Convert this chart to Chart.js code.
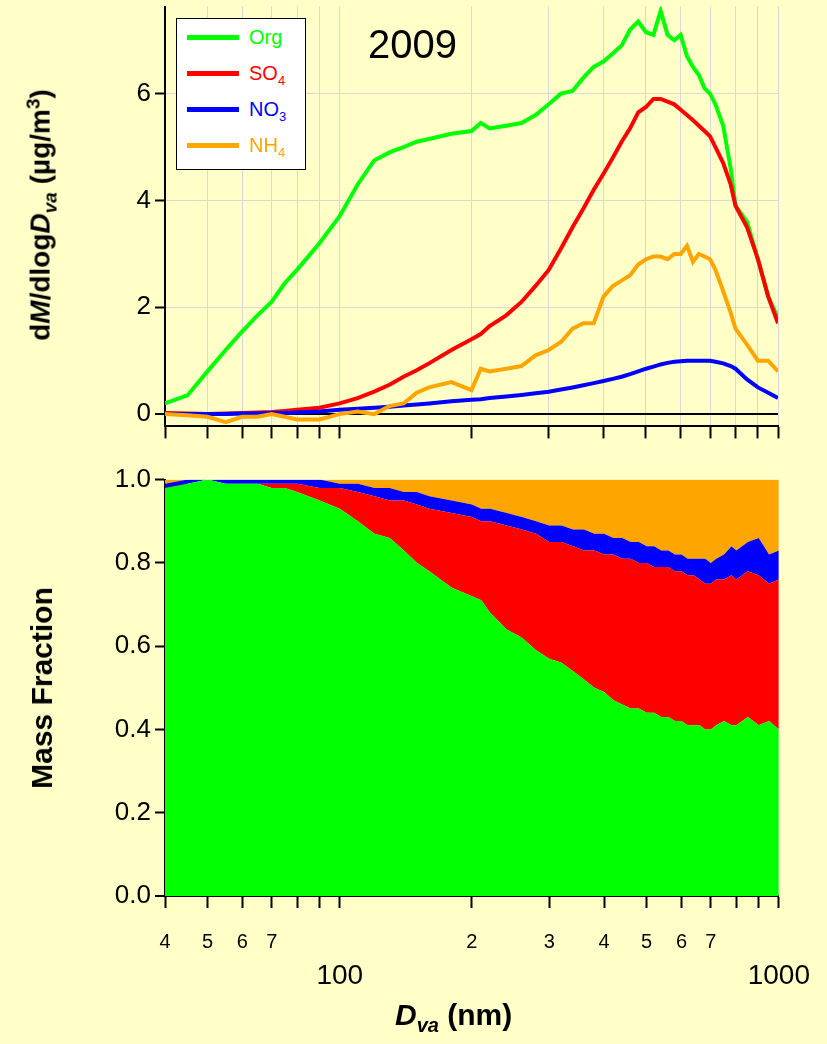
<!DOCTYPE html>
<html>
<head>
<meta charset="utf-8">
<script src="https://cdn.jsdelivr.net/npm/chart.js@4"></script>
<style>
  body { margin: 0; background: #FFFFC8; font-family: "Liberation Sans", Arial, sans-serif; }
  #wrap { position: relative; width: 827px; height: 1044px; overflow: hidden; }
  canvas { position: absolute; left: 0; }
  .lbl { position: absolute; white-space: nowrap; }
  #legend { position: absolute; left: 176px; top: 18px; width: 128px; height: 150px; border: 1.5px solid #000; background: #fff; font-size: 20px; }
  #legend div { position: relative; height: 36px; line-height: 36px; }
  #legend span.sw { position: absolute; left: 10px; top: 16px; width: 52px; height: 5px; }
  #legend span.tx { position: absolute; left: 72px; }
</style>
</head>
<body>
<div id="wrap">
  <canvas id="top" width="827" height="459" style="top:-13px"></canvas>
  <canvas id="bot" width="832" height="584" style="top:460px"></canvas>
  <div id="legend">
    <div><span class="sw" style="background:#00FF00"></span><span class="tx" style="color:#00FF00">Org</span></div>
    <div><span class="sw" style="background:#FF0000"></span><span class="tx" style="color:#FF0000">SO<sub style="font-size:13px">4</sub></span></div>
    <div><span class="sw" style="background:#0000FF"></span><span class="tx" style="color:#0000FF">NO<sub style="font-size:13px">3</sub></span></div>
    <div><span class="sw" style="background:#FFA500"></span><span class="tx" style="color:#FFA500">NH<sub style="font-size:13px">4</sub></span></div>
  </div>
  <div class="lbl" style="left:368px;top:22px;font-size:40px">2009</div>
  <div class="lbl" style="left:42px;top:215px;font-size:28px;font-weight:bold;transform:translate(-50%,-50%) rotate(-90deg)">d<i>M</i>/dlog<i>D<sub style="font-size:19px">va</sub></i> (µg/m<sup style="font-size:19px">3</sup>)</div>
  <div class="lbl" style="left:42px;top:688px;font-size:30px;font-weight:bold;transform:translate(-50%,-50%) rotate(-90deg)">Mass Fraction</div>
  <div class="lbl" style="left:395px;top:998px;font-size:30px;font-weight:bold"><i>D<sub style="font-size:20px">va</sub></i> (nm)</div>
</div>
<script>
// Particle size (nm)
const sizes = [40,45,50,55,60,65,70,75,80,90, 100,110,120,130,140,150,160,180,200,210, 220,240,260,280,300,320,340,360,380,400,
  420,440,460,480,500,520,540,560,580,600, 620,640,660,680,700,720,750,780,800,850, 900,950,1000];

// dM/dlogDva
const org = [0.2,0.35,0.8,1.2,1.55,1.85,2.1,2.45,2.7,3.2, 3.7,4.3,4.75,4.9,5.0,5.1,5.15,5.25,5.3,5.45, 5.35,5.4,5.45,5.6,5.8,6.0,6.05,6.3,6.5,6.6,
  6.75,6.9,7.2,7.35,7.15,7.1,7.55,7.1,7.0,7.1, 6.7,6.5,6.35,6.1,6.0,5.8,5.4,4.6,3.9,3.6, 2.9,2.2,1.8];
const so4 = [0.02,0.01,0.0,0.01,0.02,0.03,0.04,0.06,0.08,0.12, 0.2,0.3,0.42,0.55,0.7,0.82,0.95,1.2,1.4,1.5, 1.65,1.85,2.1,2.4,2.7,3.1,3.5,3.85,4.2,4.5,
  4.8,5.1,5.35,5.65,5.75,5.9,5.9,5.85,5.8,5.7, 5.6,5.5,5.4,5.3,5.2,5.0,4.7,4.3,3.9,3.5, 2.9,2.2,1.7];
const no3 = [0,0,0,0,0.01,0.01,0.02,0.02,0.03,0.05, 0.08,0.1,0.12,0.14,0.16,0.18,0.2,0.24,0.27,0.28, 0.3,0.33,0.36,0.39,0.42,0.46,0.5,0.54,0.58,0.62,
  0.66,0.7,0.75,0.8,0.85,0.89,0.93,0.96,0.98,0.99, 1.0,1.0,1.0,1.0,1.0,0.98,0.95,0.9,0.85,0.65, 0.5,0.4,0.3];
const nh4 = [0,-0.02,-0.05,-0.15,-0.05,-0.05,0,-0.05,-0.1,-0.1, 0,0.05,0,0.15,0.2,0.4,0.5,0.6,0.45,0.85, 0.8,0.85,0.9,1.1,1.2,1.35,1.6,1.7,1.7,2.2,
  2.4,2.5,2.6,2.8,2.9,2.95,2.95,2.9,3.0,3.0, 3.15,2.85,3.0,2.95,2.9,2.7,2.3,1.9,1.6,1.3, 1.0,1.0,0.8];

// Mass fraction, cumulative upper bounds of each stacked band
const orgTop = [0.98,0.99,1.0,0.99,0.99,0.99,0.98,0.98,0.97,0.95, 0.93,0.9,0.87,0.86,0.83,0.8,0.78,0.74,0.72,0.71, 0.68,0.64,0.62,0.59,0.57,0.56,0.54,0.52,0.5,0.49,
  0.47,0.46,0.45,0.45,0.44,0.44,0.43,0.43,0.42,0.42, 0.41,0.41,0.41,0.4,0.4,0.41,0.42,0.41,0.41,0.43, 0.41,0.42,0.4];
const so4Top = [0.97,0.99,1.0,0.99,0.99,0.99,0.99,0.99,0.99,0.98, 0.98,0.97,0.96,0.95,0.95,0.94,0.93,0.92,0.91,0.9, 0.9,0.89,0.88,0.87,0.85,0.85,0.84,0.83,0.83,0.82,
  0.82,0.81,0.81,0.8,0.8,0.79,0.79,0.79,0.78,0.78, 0.77,0.77,0.76,0.75,0.75,0.76,0.76,0.77,0.76,0.78, 0.77,0.75,0.76];
const no3Top = [0.99,1.0,1.0,1.0,1.0,1.0,1.0,1.0,1.0,1.0, 0.99,0.99,0.98,0.98,0.97,0.97,0.96,0.95,0.94,0.93, 0.93,0.92,0.91,0.9,0.89,0.89,0.88,0.88,0.87,0.87,
  0.86,0.86,0.85,0.85,0.84,0.84,0.83,0.83,0.82,0.82, 0.81,0.81,0.81,0.81,0.8,0.81,0.82,0.84,0.83,0.85, 0.86,0.82,0.83];
const nh4Top = sizes.map(() => 1);

// Axis ticks
const xTicks = [40,50,60,70,80,90,100,200,300,400,500,600,700,800,900,1000];
const xLabels = {40:'4',50:'5',60:'6',70:'7',100:'100',200:'2',300:'3',400:'4',500:'5',600:'6',700:'7',1000:'1000'};
const topYTicks = [0,2,4,6];
const botYTicks = [0,0.2,0.4,0.6,0.8,1.0];

const COLORS = { org: '#00FF00', so4: '#FF0000', no3: '#0000FF', nh4: '#FFA500' };
const FONT = '"Liberation Sans", Arial, sans-serif';
const PLOT_LEFT = 165, PLOT_RIGHT = 827 - 778;

function pts(ys) {
    return sizes.map((x, i) => ({ x: x, y: ys[i] }));
}

function isMajor(ctx) {
    return ctx.tick && (ctx.tick.value === 100 || ctx.tick.value === 1000);
}

function xScale(showLabels) {
    return {
        type: 'logarithmic', min: 40, max: 1000,
        afterBuildTicks: s => { s.ticks = xTicks.map(v => ({ value: v })); },
        afterFit: s => { s.height = showLabels ? 90 : 15; },
        border: { color: '#000', width: 2 },
        grid: {
            display: true,
            drawOnChartArea: !showLabels,
            color: showLabels ? '#000' : '#d8d8d8',
            tickColor: '#000',
            tickLength: 12,
            tickWidth: 2
        },
        ticks: {
            display: showLabels, autoSkip: false, maxRotation: 0, padding: 22, color: '#000',
            callback: v => {
                const l = xLabels[v] || '';
                return (v === 100 || v === 1000) ? ['', l] : l;
            },
            font: ctx => isMajor(ctx) ? { family: FONT, size: 28, lineHeight: 1.1 } : { family: FONT, size: 20 }
        }
    };
}

function yScale(min, max, ticks, grid, fmt) {
    return {
        min: min, max: max,
        afterBuildTicks: s => { s.ticks = ticks.map(v => ({ value: v })); },
        afterFit: s => { s.width = PLOT_LEFT; },
        border: { color: '#000', width: 2 },
        grid: {
            drawOnChartArea: grid,
            color: c => c.tick && c.tick.value === 0 ? '#000' : '#d8d8d8',
            lineWidth: c => c.tick && c.tick.value === 0 ? 2 : 1,
            tickColor: '#000', tickLength: 10, tickWidth: 2
        },
        ticks: { color: '#000', font: { family: FONT, size: 26 }, padding: 4, callback: fmt }
    };
}

function initializeTop() {
    const mk = (d, c) => ({ data: pts(d), borderColor: c, borderWidth: 4, pointRadius: 0, fill: false, tension: 0 });
    new Chart(document.getElementById('top'), {
        type: 'line',
        data: { datasets: [mk(nh4, COLORS.nh4), mk(no3, COLORS.no3), mk(so4, COLORS.so4), mk(org, COLORS.org)] },
        options: {
            responsive: false, animation: false,
            layout: { padding: { top: 5, right: PLOT_RIGHT, bottom: 0, left: 0 } },
            plugins: { legend: { display: false }, tooltip: { enabled: false } },
            scales: { x: xScale(false), y: yScale(-0.23, 7.63, topYTicks, true, v => String(v)) }
        }
    });
}

function initializeBottom() {
    const mk = (d, c, f) => ({ data: pts(d), borderColor: c, backgroundColor: c, borderWidth: 0, pointRadius: 0, fill: f, tension: 0 });
    new Chart(document.getElementById('bot'), {
        type: 'line',
        data: { datasets: [mk(orgTop, COLORS.org, 'origin'), mk(so4Top, COLORS.so4, '-1'), mk(no3Top, COLORS.no3, '-1'), mk(nh4Top, COLORS.nh4, '-1')] },
        options: {
            responsive: false, animation: false,
            layout: { padding: { top: 16, right: PLOT_RIGHT - 5, bottom: 58, left: 0 } },
            plugins: { legend: { display: false }, tooltip: { enabled: false } },
            scales: { x: xScale(true), y: yScale(0, 1, botYTicks, false, v => v.toFixed(1)) }
        }
    });
}

document.addEventListener('DOMContentLoaded', () => {
    initializeTop();
    initializeBottom();
});
</script>
</body>
</html>
